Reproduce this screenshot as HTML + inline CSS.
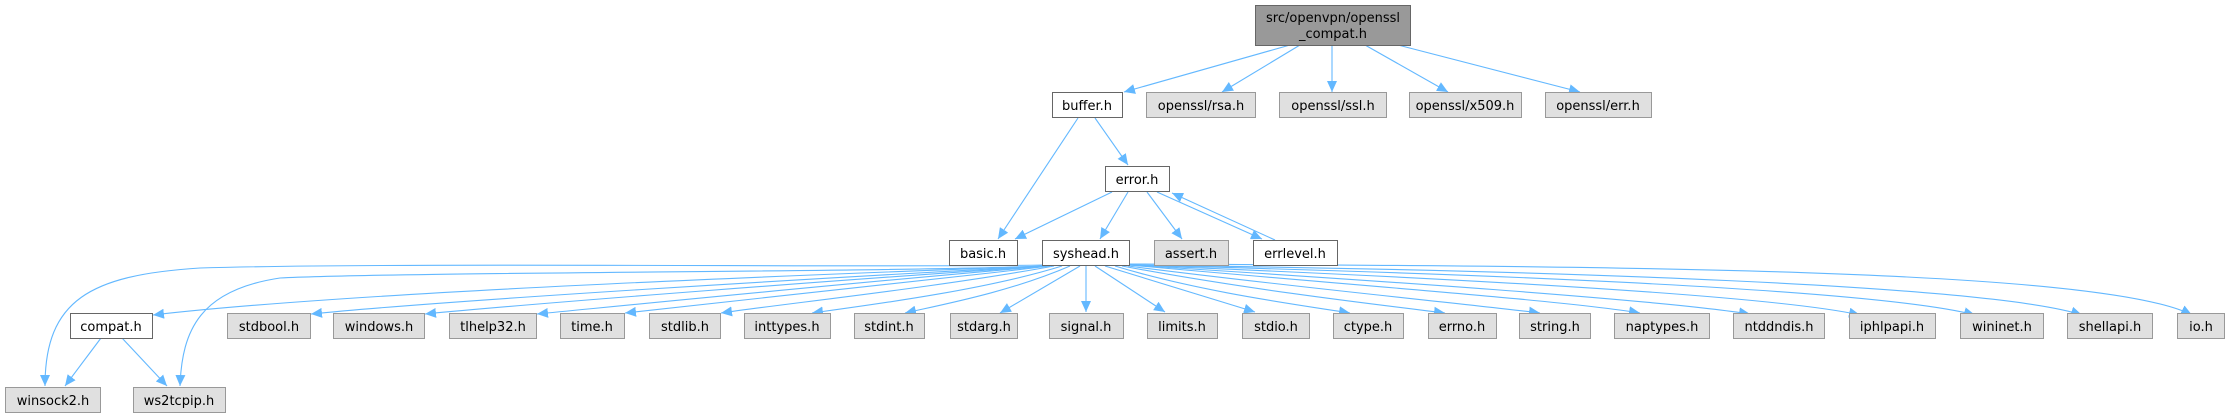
<!DOCTYPE html>
<html><head><meta charset="utf-8"><style>
html,body{margin:0;padding:0;background:#fff;}
svg{display:block}
text{font-family:"DejaVu Sans","Liberation Sans",sans-serif;font-size:13px;fill:#000;text-anchor:middle}
.w{fill:#fff;stroke:#666;stroke-width:1}
.g{fill:#e0e0e0;stroke:#999;stroke-width:1}
.e{fill:none;stroke:#63b8ff;stroke-width:1.1}
</style></head><body>
<svg width="2229" height="417" viewBox="0 0 2229 417" xmlns="http://www.w3.org/2000/svg">
<defs><marker id="a" markerUnits="userSpaceOnUse" markerWidth="12" markerHeight="10" refX="11" refY="5" orient="auto"><path d="M0,0 L11,5 L0,10 z" fill="#63b8ff"/></marker></defs>
<g class="e" marker-end="url(#a)">
<path d="M1290,45 L1124,92"/>
<path d="M1300,45 L1222,92"/>
<path d="M1332,45 L1332,92"/>
<path d="M1365,45 L1448,92"/>
<path d="M1398,45 L1580,92"/>
<path d="M1078,118 L998,239"/>
<path d="M1095,118 L1128,165"/>
<path d="M1112,192 L1015,239"/>
<path d="M1128,192 L1100,239"/>
<path d="M1147,192 L1182,239"/>
<path d="M1157,192 L1262,239"/>
<path d="M1275,240 L1172,193"/>
<path d="M101,338 L65,386"/>
<path d="M122,338 L167,386"/>
<path d="M1043,265 C900,268 400,262 200,268 C90,275 45,300 45,386"/>
<path d="M1044,266 C900,272 400,272 280,278 C200,290 182,330 180,386"/>
<path d="M1045,266 C800,275 350,292 153,315"/>
<path d="M1046,266 C820,278 450,300 311,314"/>
<path d="M1047,266 C840,280 550,302 425,314"/>
<path d="M1048,266 C860,282 650,303 537,314"/>
<path d="M1050,266 C890,285 720,303 625,313"/>
<path d="M1054,266 C940,287 790,303 721,313"/>
<path d="M1062,266 C985,290 870,305 812,313"/>
<path d="M1070,266 C1010,292 940,305 905,313"/>
<path d="M1080,266 L1000,313"/>
<path d="M1086,266 L1086,312"/>
<path d="M1095,266 L1165,312"/>
<path d="M1105,266 L1255,312"/>
<path d="M1115,266 C1200,292 1300,305 1350,313"/>
<path d="M1122,266 C1250,290 1380,305 1445,313"/>
<path d="M1128,266 C1300,288 1460,303 1540,313"/>
<path d="M1129,265 C1350,285 1560,300 1640,313"/>
<path d="M1129,265 C1400,282 1660,300 1750,314"/>
<path d="M1129,265 C1450,278 1770,295 1860,315"/>
<path d="M1129,265 C1500,274 1880,290 1975,315"/>
<path d="M1129,265 C1550,270 1990,285 2082,315"/>
<path d="M1129,264 C1600,266 2100,268 2192,315"/>
</g>
<rect class="w" x="1255.5" y="5.5" width="155" height="40" style="fill:#999"/>
<text x="1333" y="22">src/openvpn/openssl</text><text x="1333" y="38">_compat.h</text>
<rect class="w" x="1052.5" y="92.5" width="70" height="25"/><text x="1087" y="110">buffer.h</text>
<rect class="g" x="1146.5" y="92.5" width="109" height="25"/><text x="1201" y="110">openssl/rsa.h</text>
<rect class="g" x="1279.5" y="92.5" width="107" height="25"/><text x="1333" y="110">openssl/ssl.h</text>
<rect class="g" x="1409.5" y="92.5" width="112" height="25"/><text x="1465" y="110">openssl/x509.h</text>
<rect class="g" x="1545.5" y="92.5" width="106" height="25"/><text x="1598" y="110">openssl/err.h</text>
<rect class="w" x="1105.5" y="166.5" width="64" height="25"/><text x="1137" y="184">error.h</text>
<rect class="w" x="949.5" y="240.5" width="68" height="25"/><text x="983" y="258">basic.h</text>
<rect class="w" x="1042.5" y="240.5" width="87" height="25"/><text x="1086" y="258">syshead.h</text>
<rect class="g" x="1154.5" y="240.5" width="74" height="25"/><text x="1191" y="258">assert.h</text>
<rect class="w" x="1253.5" y="240.5" width="84" height="25"/><text x="1295" y="258">errlevel.h</text>
<rect class="w" x="70.5" y="313.5" width="82" height="25"/><text x="111" y="331">compat.h</text>
<rect class="g" x="227.5" y="313.5" width="83" height="25"/><text x="269" y="331">stdbool.h</text>
<rect class="g" x="333.5" y="313.5" width="91" height="25"/><text x="379" y="331">windows.h</text>
<rect class="g" x="449.5" y="313.5" width="87" height="25"/><text x="493" y="331">tlhelp32.h</text>
<rect class="g" x="560.5" y="313.5" width="64" height="25"/><text x="592" y="331">time.h</text>
<rect class="g" x="649.5" y="313.5" width="71" height="25"/><text x="685" y="331">stdlib.h</text>
<rect class="g" x="744.5" y="313.5" width="86" height="25"/><text x="787" y="331">inttypes.h</text>
<rect class="g" x="854.5" y="313.5" width="70" height="25"/><text x="889" y="331">stdint.h</text>
<rect class="g" x="950.5" y="313.5" width="67" height="25"/><text x="984" y="331">stdarg.h</text>
<rect class="g" x="1049.5" y="313.5" width="74" height="25"/><text x="1086" y="331">signal.h</text>
<rect class="g" x="1147.5" y="313.5" width="70" height="25"/><text x="1182" y="331">limits.h</text>
<rect class="g" x="1242.5" y="313.5" width="67" height="25"/><text x="1276" y="331">stdio.h</text>
<rect class="g" x="1333.5" y="313.5" width="70" height="25"/><text x="1368" y="331">ctype.h</text>
<rect class="g" x="1428.5" y="313.5" width="68" height="25"/><text x="1462" y="331">errno.h</text>
<rect class="g" x="1519.5" y="313.5" width="71" height="25"/><text x="1555" y="331">string.h</text>
<rect class="g" x="1614.5" y="313.5" width="95" height="25"/><text x="1662" y="331">naptypes.h</text>
<rect class="g" x="1733.5" y="313.5" width="91" height="25"/><text x="1779" y="331">ntddndis.h</text>
<rect class="g" x="1849.5" y="313.5" width="86" height="25"/><text x="1892" y="331">iphlpapi.h</text>
<rect class="g" x="1960.5" y="313.5" width="83" height="25"/><text x="2002" y="331">wininet.h</text>
<rect class="g" x="2067.5" y="313.5" width="85" height="25"/><text x="2110" y="331">shellapi.h</text>
<rect class="g" x="2177.5" y="313.5" width="47" height="25"/><text x="2201" y="331">io.h</text>
<rect class="g" x="5.5" y="387.5" width="95" height="25"/><text x="53" y="405">winsock2.h</text>
<rect class="g" x="133.5" y="387.5" width="92" height="25"/><text x="179" y="405">ws2tcpip.h</text>
</svg>
</body></html>
